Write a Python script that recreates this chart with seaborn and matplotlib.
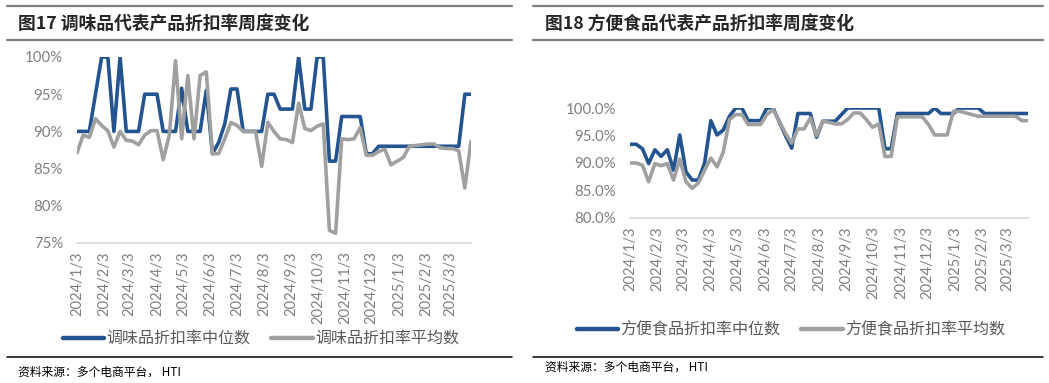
import pandas as pd
import matplotlib
matplotlib.use('Agg')
import matplotlib.pyplot as plt
import seaborn as sns
from matplotlib.lines import Line2D
from matplotlib.ticker import FuncFormatter

# ---- data (weekly, %) ----
weeks = pd.date_range('2024-01-03', periods=65, freq='7D')
month_ticks = pd.date_range('2024-01-01', '2025-03-01', freq='MS') + pd.Timedelta(days=2)

seasoning_median = [90, 90, 90, 95, 100, 100, 90, 100, 90, 90, 90, 95, 95, 95, 90, 90,
                    90, 95.8, 90, 90, 90, 95.5, 87, 88.5, 91, 95.7, 95.7, 90, 90, 90, 90,
                    95, 95, 93, 93, 93, 100, 93, 93, 100, 100, 86, 86, 92, 92, 92, 92,
                    87, 87, 88, 88, 88, 88, 88, 88, 88, 88, 88, 88, 88, 88, 88, 88, 95, 95]
seasoning_mean = [87.1, 89.5, 89.2, 91.7, 90.8, 90.1, 87.9, 90, 88.8, 88.7, 88.2, 89.5,
                  90.1, 90.1, 86.2, 89.5, 99.5, 89, 97.5, 89, 97.5, 98, 87, 87, 89, 91.2,
                  90.8, 90, 90, 90, 85.3, 91.2, 90, 89, 88.9, 88.5, 93.8, 90.4, 90.1,
                  90.7, 91, 76.7, 76.3, 89, 88.9, 89, 90.5, 86.8, 86.8, 87.3, 87.6, 85.5,
                  86, 86.5, 88, 88.1, 88.2, 88.3, 88.3, 87.8, 87.7, 87.7, 87.4, 82.4, 88.7]

instant_median = [93.4, 93.4, 92.6, 89.9, 92.4, 91.2, 92.4, 88.7, 95.1, 88.4, 86.9, 86.9,
                  90, 97.7, 95.1, 96, 98.5, 100, 100, 97.7, 97.7, 97.7, 100, 100, 97.5, 95,
                  92.7, 99, 99, 99, 94.7, 97.6, 97.6, 97.6, 98.8, 100, 100, 100, 100, 100,
                  100, 92.6, 92.6, 99, 99, 99, 99, 99, 99, 100, 99, 99, 99, 100, 100, 100,
                  100, 99, 99, 99, 99, 99, 99, 99, 99]
instant_mean = [90, 90, 89.6, 86.6, 89.9, 89.5, 89.9, 86.9, 90.7, 86.6, 85.4, 86.4, 88.7,
                90.9, 89.3, 92, 97.9, 98.8, 98.8, 97, 97, 97, 98.8, 99.7, 97.6, 95.4, 93.6,
                96.2, 96.2, 98.2, 95, 97.6, 97.4, 97.1, 97.1, 97.9, 99.1, 99.1, 97.9, 96.5,
                97.1, 91.2, 91.2, 98.4, 98.4, 98.4, 98.4, 98.4, 97, 95.1, 95.1, 95.1, 99.4,
                99.4, 99.1, 98.8, 98.5, 98.5, 98.5, 98.5, 98.5, 98.5, 98.5, 97.7, 97.7]

titles = ['图17 调味品代表产品折扣率周度变化', '图18 方便食品代表产品折扣率周度变化']
labels_left = ['调味品折扣率中位数', '调味品折扣率平均数']
labels_right = ['方便食品折扣率中位数', '方便食品折扣率平均数']
source = '资料来源：多个电商平台， HTI'

BLUE = '#24548f'
GRAY = '#a0a0a0'
TXT = '#808080'

sns.set_style('white')
plt.rcParams['font.family'] = ['Lato', 'Noto Sans CJK SC', 'DejaVu Sans']

W, H = 1049, 383
fig = plt.figure(figsize=(W / 100, H / 100), dpi=100)


def px_axes(x0, x1, y_top, y_bot):
    return fig.add_axes([x0 / W, 1 - y_bot / H, (x1 - x0) / W, (y_bot - y_top) / H])


def draw(ax, med, mean, labels, ymin, fmt):
    sns.lineplot(x=weeks, y=med, ax=ax, color=BLUE, linewidth=2.6, label=labels[0])
    sns.lineplot(x=weeks, y=mean, ax=ax, color=GRAY, linewidth=2.6, label=labels[1])
    ax.set_xlim(weeks[0], weeks[-1])
    ax.set_ylim(ymin, 100)
    ax.set_yticks(range(ymin, 101, 5))
    ax.yaxis.set_major_formatter(FuncFormatter(lambda v, p: fmt.format(v)))
    ax.set_xticks(month_ticks)
    ax.set_xticklabels([f'{d.year}/{d.month}/{d.day}' for d in month_ticks], rotation=90)
    ax.tick_params(axis='both', length=0, colors=TXT)
    ax.tick_params(axis='y', pad=10, labelsize=10.8)
    ax.tick_params(axis='x', pad=6, labelsize=10.6)
    for s in ['top', 'right', 'left']:
        ax.spines[s].set_visible(False)
    ax.spines['bottom'].set_color('#d9d9d9')
    ax.spines['bottom'].set_linewidth(1.2)
    ax.set_xlabel('')
    ax.set_ylabel('')
    ax.set_facecolor('none')


ax1 = px_axes(77, 471, 57, 243)
draw(ax1, seasoning_median, seasoning_mean, labels_left, 75, '{:.0f}%')
ax2 = px_axes(630, 1028, 108, 218)
draw(ax2, instant_median, instant_mean, labels_right, 80, '{:.1f}%')

for ax, cx, cy in [(ax1, 261, 339), (ax2, 791, 330)]:
    leg = ax.legend(loc='center', bbox_to_anchor=(cx / W, 1 - cy / H),
                    bbox_transform=fig.transFigure, ncol=2, frameon=False,
                    handlelength=2.6, handletextpad=0.15, columnspacing=1.3,
                    prop={'family': ['Noto Sans CJK SC'], 'size': 11.5})
    for t in leg.get_texts():
        t.set_color('#595959')
    for h in leg.get_lines():
        h.set_linewidth(3.2)

# panel frames, titles and sources
for x0, x1, tx, sy in [(7, 512, 18, 372), (533, 1043, 545, 367)]:
    fig.add_artist(Line2D([x0 / W, x1 / W], [1 - 6 / H] * 2, color='#7f7f7f', lw=1.6))
    fig.add_artist(Line2D([x0 / W, x1 / W], [1 - 40 / H] * 2, color='#7f7f7f', lw=1.6))
    fig.add_artist(Line2D([x0 / W, x1 / W], [1 - 357 / H] * 2, color='#000000', lw=1.1))
    fig.text(tx / W, 1 - sy / H, source, fontsize=8.5, va='center', ha='left',
             family=['Noto Sans CJK SC'], color='#000000')

fig.text(18 / W, 1 - 24 / H, titles[0], fontsize=12.8, fontweight='bold',
         va='center', ha='left', family=['Noto Sans CJK SC'])
fig.text(545 / W, 1 - 24 / H, titles[1], fontsize=12.8, fontweight='bold',
         va='center', ha='left', family=['Noto Sans CJK SC'])

fig.savefig('out.png', dpi=100, facecolor='white')
